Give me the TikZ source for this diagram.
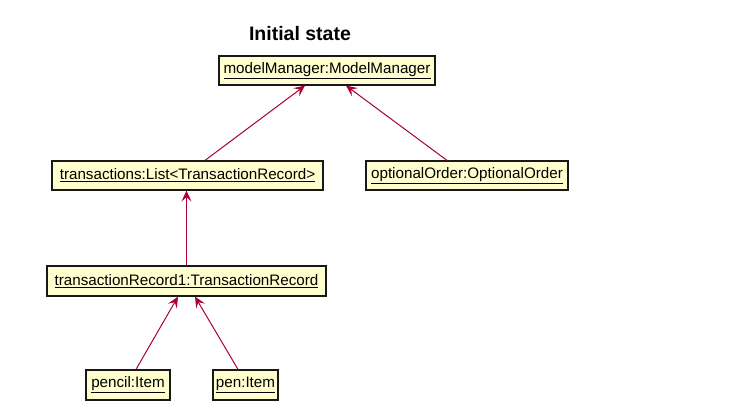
\documentclass[tikz,border=0pt]{standalone}
\usepackage{fontspec}
\setmainfont{Liberation Sans}
\usetikzlibrary{arrows.meta}
\definecolor{umlred}{RGB}{168,0,54}
\definecolor{umlfill}{RGB}{254,254,206}
\definecolor{umlborder}{RGB}{24,24,24}
\tikzset{
  obj/.style={draw=umlborder, fill=umlfill, line width=1.2pt, inner sep=0pt,
    minimum height=29pt, font=\fontsize{15.2}{17}\selectfont},
  link/.style={draw=umlred, line width=1pt, -{Stealth[length=11pt,width=10pt,inset=4.5pt]}},
}
\begin{document}
\begin{tikzpicture}[x=1pt,y=1pt]
\useasboundingbox (0,0) rectangle (747,419);
\node[font=\fontsize{19.5}{22}\selectfont\bfseries] (title) at (300,385) {Initial state};
\node[obj, minimum width=216pt] (mm) at (327,348.5) {\underline{modelManager:ModelManager}};
\node[obj, minimum width=271pt] (tx) at (187.5,243.5) {\underline{transactions:List<TransactionRecord>}};
\node[obj, minimum width=202pt] (oo) at (467,243.5) {\underline{optionalOrder:OptionalOrder}};
\node[obj, minimum width=279pt, minimum height=30pt] (tr) at (186.5,138) {\underline{transactionRecord1:TransactionRecord}};
\node[obj, minimum width=84pt, minimum height=30pt] (pencil) at (128,34) {\underline{pencil:Item}};
\node[obj, minimum width=65pt, minimum height=30pt] (pen) at (245.5,34) {\underline{pen:Item}};
\draw[link] ([xshift=17.5pt]tx.north) -- ([xshift=-22pt]mm.south);
\draw[link] ([xshift=-20pt]oo.north) -- ([xshift=19pt]mm.south);
\draw[link] (tr.north) -- (tr.north |- tx.south);
\draw[link] ([xshift=8pt]pencil.north) -- ([xshift=-8.5pt]tr.south);
\draw[link] ([xshift=-7.5pt]pen.north) -- ([xshift=8.5pt]tr.south);
\end{tikzpicture}
\end{document}
